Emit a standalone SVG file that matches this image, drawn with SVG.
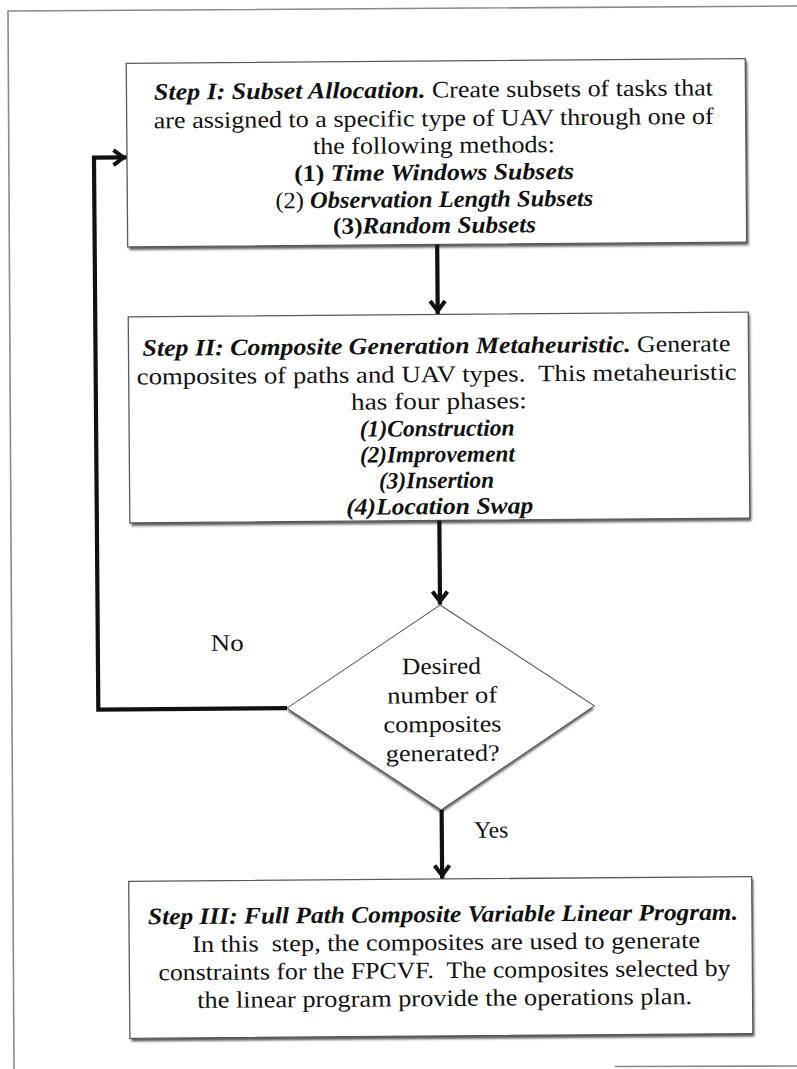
<svg xmlns="http://www.w3.org/2000/svg" width="797" height="1069" viewBox="0 0 797 1069">
<style>
.page{fill:none;stroke:#8a8a8a;stroke-width:1.6}
.box{fill:#fff;stroke:#5a5a5a;stroke-width:1.3}
.shadow{fill:#5a5a5a;filter:url(#blur)}
.t{font-family:"Liberation Serif","Times New Roman",serif;font-size:23.5px;fill:#111;text-anchor:middle}
.bi{font-weight:bold;font-style:italic}
.b{font-weight:bold}
.conn{fill:none;stroke:#111;stroke-width:4.2;stroke-linejoin:miter}
</style>
<defs>
<filter id="blur" x="-5%" y="-5%" width="110%" height="110%"><feGaussianBlur stdDeviation="1.2"/></filter>
<marker id="ah" viewBox="0 0 22 20" refX="20" refY="10" markerWidth="22" markerHeight="20" markerUnits="userSpaceOnUse" orient="auto">
<path d="M7,2.5 L17,10 L7,17.5" fill="none" stroke="#111" stroke-width="4" stroke-linejoin="miter" stroke-miterlimit="10"/>
</marker>
</defs>
<rect width="797" height="1069" fill="#fff"/>
<path class="page" d="M14,1069 L8,11 L797,6"/>
<path class="page" d="M615,1066.5 L797,1066"/>
<g transform="rotate(-0.45 440 540)">
<g id="step1">
<rect class="shadow" x="131.5" y="63.5" width="619.5" height="184"/>
<rect class="box" x="130" y="61" width="619" height="183.5"/>
<text class="t" x="437" y="97.5" textLength="559" lengthAdjust="spacingAndGlyphs"><tspan class="bi">Step I: Subset Allocation.</tspan> Create subsets of tasks that</text>
<text class="t" x="437" y="126" textLength="560" lengthAdjust="spacingAndGlyphs">are assigned to a specific type of UAV through one of</text>
<text class="t" x="437" y="153" textLength="242" lengthAdjust="spacingAndGlyphs">the following methods:</text>
<text class="t" x="437" y="180" textLength="280" lengthAdjust="spacingAndGlyphs"><tspan class="b">(1) </tspan><tspan class="bi">Time Windows Subsets</tspan></text>
<text class="t" x="437" y="207" textLength="318" lengthAdjust="spacingAndGlyphs"><tspan>(2) </tspan><tspan class="bi">Observation Length Subsets</tspan></text>
<text class="t" x="437" y="233" textLength="203" lengthAdjust="spacingAndGlyphs"><tspan class="b">(3)</tspan><tspan class="bi">Random Subsets</tspan></text>
</g>
<g id="step2">
<rect class="shadow" x="131.5" y="317" width="620" height="206.5"/>
<rect class="box" x="130" y="314.5" width="620" height="206"/>
<text class="t" x="438" y="353.5" textLength="588" lengthAdjust="spacingAndGlyphs"><tspan class="bi">Step II: Composite Generation Metaheuristic.</tspan> Generate</text>
<text class="t" x="438" y="382" xml:space="preserve" textLength="600" lengthAdjust="spacingAndGlyphs">composites of paths and UAV types.  This metaheuristic</text>
<text class="t" x="440" y="409" textLength="176" lengthAdjust="spacingAndGlyphs">has four phases:</text>
<text class="t bi" x="438" y="436" textLength="155" lengthAdjust="spacingAndGlyphs">(1)Construction</text>
<text class="t bi" x="438" y="462" textLength="155" lengthAdjust="spacingAndGlyphs">(2)Improvement</text>
<text class="t bi" x="437" y="488" textLength="115" lengthAdjust="spacingAndGlyphs">(3)Insertion</text>
<text class="t bi" x="440" y="514" textLength="187" lengthAdjust="spacingAndGlyphs">(4)Location Swap</text>
</g>
<g id="decision">
<polygon points="439.5,608 593,710 439,813 286,710" fill="#666" filter="url(#blur)"/>
<polygon points="439.5,605 593,707 439,810 285.7,707" fill="#fff" stroke="#555" stroke-width="1"/>
<text class="t" x="440.5" y="674" textLength="79" lengthAdjust="spacingAndGlyphs">Desired</text>
<text class="t" x="441" y="703" textLength="110" lengthAdjust="spacingAndGlyphs">number of</text>
<text class="t" x="441" y="732" textLength="118" lengthAdjust="spacingAndGlyphs">composites</text>
<text class="t" x="441" y="761" textLength="114" lengthAdjust="spacingAndGlyphs">generated?</text>
</g>
<g id="step3">
<rect class="shadow" x="127.5" y="881.5" width="623" height="157.5"/>
<rect class="box" x="126" y="879" width="623" height="157"/>
<text class="t" x="440" y="922" textLength="590" lengthAdjust="spacingAndGlyphs"><tspan class="bi">Step III: Full Path Composite Variable Linear Program.</tspan></text>
<text class="t" x="443" y="950" xml:space="preserve" textLength="508" lengthAdjust="spacingAndGlyphs">In this  step, the composites are used to generate</text>
<text class="t" x="441" y="978" xml:space="preserve" textLength="572" lengthAdjust="spacingAndGlyphs">constraints for the FPCVF.  The composites selected by</text>
<text class="t" x="441" y="1006" textLength="495" lengthAdjust="spacingAndGlyphs">the linear program provide the operations plan.</text>
</g>
<g id="connectors">
<path class="conn" d="M439.5,244.5 V314" marker-end="url(#ah)"/>
<path class="conn" d="M439.5,520.5 V604.5" marker-end="url(#ah)"/>
<path class="conn" d="M439.5,810 V878.5" marker-end="url(#ah)"/>
<path class="conn" d="M285.7,707 H97 V155 H129.5" marker-end="url(#ah)"/>
<text class="t" x="226.5" y="649" textLength="33" lengthAdjust="spacingAndGlyphs">No</text>
<text class="t" x="489" y="838" textLength="34" lengthAdjust="spacingAndGlyphs">Yes</text>
</g>
</g>
</svg>
